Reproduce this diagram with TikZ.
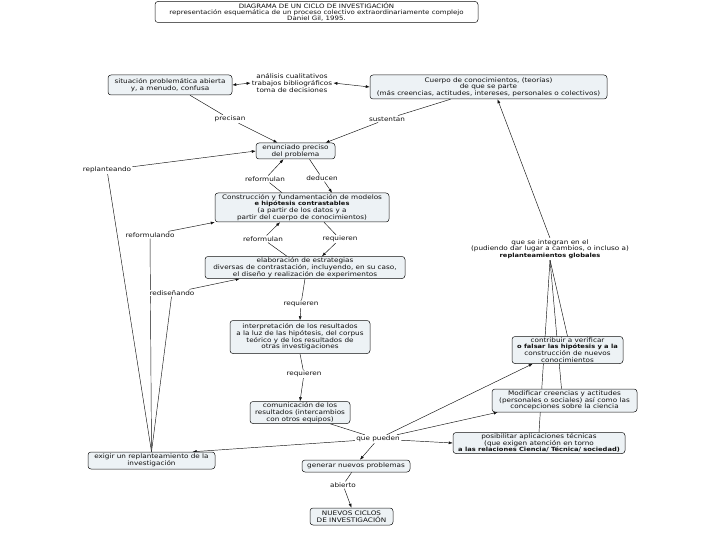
\documentclass[tikz,border=0pt]{standalone}
\usepackage{fontspec}
\setmainfont[FakeStretch=1.17]{DejaVu Sans}
\usetikzlibrary{arrows.meta,calc}
\pgfdeclarelayer{back}
\pgfdeclarelayer{bg}
\pgfsetlayers{back,bg,main}
\definecolor{boxfill}{HTML}{EDF2F5}
\definecolor{inkc}{HTML}{111111}
\newcommand\mapfont{\fontsize{6.2}{6.7}\selectfont}
\newcommand\titfont{\fontsize{6}{6.2}\selectfont}
\newcommand\bx[1]{{\fontsize{5.7}{6.7}\selectfont\bfseries #1}}
\tikzset{
  box/.style={draw=inkc, line width=0.5pt, rounded corners=3pt, fill=boxfill, align=center, inner sep=0.8pt, font=\mapfont, text=inkc},
  lbl/.style={align=center, inner sep=1pt, font=\mapfont, text=inkc, fill=white},
  link/.style={line width=0.45pt, draw=inkc},
  arr/.style={link, -{Latex[length=4pt,width=3pt]}},
  arrtwo/.style={link, {Latex[length=4pt,width=3pt]}-{Latex[length=4pt,width=3pt]}},
}
\begin{document}
\begin{tikzpicture}[x=1pt,y=-1pt]
\useasboundingbox (0,0) rectangle (720,540);
\begin{pgfonlayer}{back}
\fill[white] (0,0) rectangle (720,540);
\end{pgfonlayer}

% title
\node[box, fill=white, minimum width=323pt, minimum height=21pt, font=\titfont] (title) at (316.5,12)
 {DIAGRAMA DE UN CICLO DE INVESTIGACIÓN\\representación esquemática de un proceso colectivo extraordinariamente complejo\\Daniel Gil, 1995.};

% top row
\node[box, minimum width=124pt, minimum height=20pt] (situ) at (170,85)
 {situación problemática abierta\\y, a menudo, confusa};
\node[lbl] (analisis) at (292,83) {análisis cualitativos\\trabajos bibliográficos\\toma de decisiones};
\node[box, minimum width=237pt, minimum height=24pt] (cuerpo) at (488.5,87)
 {Cuerpo de conocimientos, (teorías)\\de que se parte\\(más creencias, actitudes, intereses, personales o colectivos)};

\node[lbl] (precisan) at (230,119) {precisan};
\node[lbl] (sustentan) at (387,119) {sustentan};

\node[box, minimum width=79pt, minimum height=16pt] (enun) at (295.5,151) {enunciado preciso\\del problema};

\node[lbl] (replant) at (107,170) {replanteando};
\node[lbl] (reform1) at (265,179) {reformulan};
\node[lbl] (deducen) at (322,178) {deducen};

\node[box, minimum width=174pt, minimum height=29pt] (constr) at (302,207.5)
 {Construcción y fundamentación de modelos\\\bx{e hipótesis contrastables}\\(a partir de los datos y a\\partir del cuerpo de conocimientos)};

\node[lbl] (reformando) at (150,235) {reformulando};
\node[lbl] (reform2) at (263,239) {reformulan};
\node[lbl] (requieren1) at (340,239) {requieren};

\node[box, minimum width=200pt, minimum height=22pt] (elab) at (305,267.5)
 {elaboración de estrategias\\diversas de contrastación, incluyendo, en su caso,\\el diseño y realización de experimentos};

\node[lbl] (redis) at (172,293) {rediseñando};
\node[lbl] (requieren2) at (301,304) {requieren};

\node[box, minimum width=140pt, minimum height=33pt] (interp) at (300,337)
 {interpretación de los resultados\\a la luz de las hipótesis, del corpus\\teórico y de los resultados de\\otras investigaciones};

\node[lbl] (requieren3) at (304,374) {requieren};

\node[box, minimum width=100pt, minimum height=22pt] (comun) at (300,412.5)
 {comunicación de los\\resultados (intercambios\\con otros equipos)};

\node[lbl] (quepueden) at (378,439) {que pueden};

\node[box, minimum width=127pt, minimum height=17pt] (exigir) at (151.5,460.5)
 {exigir un replanteamiento de la\\investigación};
\node[box, minimum width=108pt, minimum height=12pt] (generar) at (356,466) {generar nuevos problemas};
\node[lbl] (abierto) at (343,485) {abierto};
\node[box, minimum width=83pt, minimum height=17pt] (nuevos) at (351.5,516.5) {NUEVOS CICLOS\\DE INVESTIGACIÓN};

\node[box, minimum width=172pt, minimum height=21pt] (posib) at (539,443)
 {posibilitar aplicaciones técnicas\\(que exigen atención en torno\\\bx{a las relaciones Ciencia/ Técnica/ sociedad)}};
\node[box, minimum width=145pt, minimum height=23pt] (modif) at (564.5,400.5)
 {Modificar creencias y actitudes\\(personales o sociales) así como las\\concepciones sobre la ciencia};
\node[box, minimum width=111pt, minimum height=27pt] (contrib) at (567.5,350)
 {contribuir a verificar\\\bx{o falsar las hipótesis y a la}\\construcción de nuevos\\conocimientos};

\node[lbl] (integran) at (550,249)
 {que se integran en el\\(pudiendo dar lugar a cambios, o incluso a)\\\bx{replanteamientos globales}};

\begin{pgfonlayer}{bg}
\draw[arrtwo] (situ.east) -- (analisis.west);
\draw[arrtwo] (analisis.east) -- (cuerpo.west);

\draw[link] ($(situ.south)+(20,0)$) -- (precisan);
\draw[arr] (precisan) -- ($(enun.north)+(-18,0)$);
\draw[link] ($(cuerpo.south)+(-38,0)$) -- (sustentan);
\draw[arr] (sustentan) -- ($(enun.north)+(30,0)$);

\draw[arr] (integran.north) -- ($(cuerpo.south)+(9,0)$);
\draw[link] (contrib.north) -- (integran.south);
\draw[link] ($(modif.north)+(-3,0)$) -- (integran.south);
\draw[link] (posib.north) -- (integran.south);

\draw[link] ($(constr.north)+(-20,0)$) -- (reform1);
\draw[arr] (reform1) -- ($(enun.south)+(-12,0)$);
\draw[link] ($(enun.south)+(14,0)$) -- (deducen);
\draw[arr] (deducen) -- ($(constr.north)+(30,0)$);

\draw[link] ($(elab.north)+(-18,0)$) -- (reform2);
\draw[arr] (reform2) -- ($(constr.south)+(-22,0)$);
\draw[link] ($(constr.south)+(22,0)$) -- (requieren1);
\draw[arr] (requieren1) -- ($(elab.north)+(17,0)$);

\draw[link] (elab.south) -- (requieren2);
\draw[arr] (requieren2) -- (interp.north);
\draw[link] (interp.south) -- (requieren3);
\draw[arr] (requieren3) -- (comun.north);

\draw[link] ($(comun.south)+(30,0)$) -- (quepueden);
\draw[arr] (quepueden) -- (exigir.12);
\draw[arr] (quepueden) -- ($(generar.north)+(4,0)$);
\draw[arr] (quepueden) -- (posib.west);
\draw[arr] (quepueden) -- ($(modif.south west)+(6,0)$);
\draw[arr] (quepueden) -- ($(contrib.south west)+(21,0)$);

\draw[link] (generar) -- (abierto);
\draw[arr] (abierto) -- (nuevos.north);

\draw[link] (exigir.north) -- (replant);
\draw[link] (exigir.north) -- (reformando);
\draw[link] (exigir.north) -- (redis);
\draw[arr] (replant) -- (enun.west);
\draw[arr] (reformando) -- (constr.south west);
\draw[arr] (redis) -- ($(elab.south west)+(35,0)$);
\end{pgfonlayer}
\end{tikzpicture}
\end{document}
